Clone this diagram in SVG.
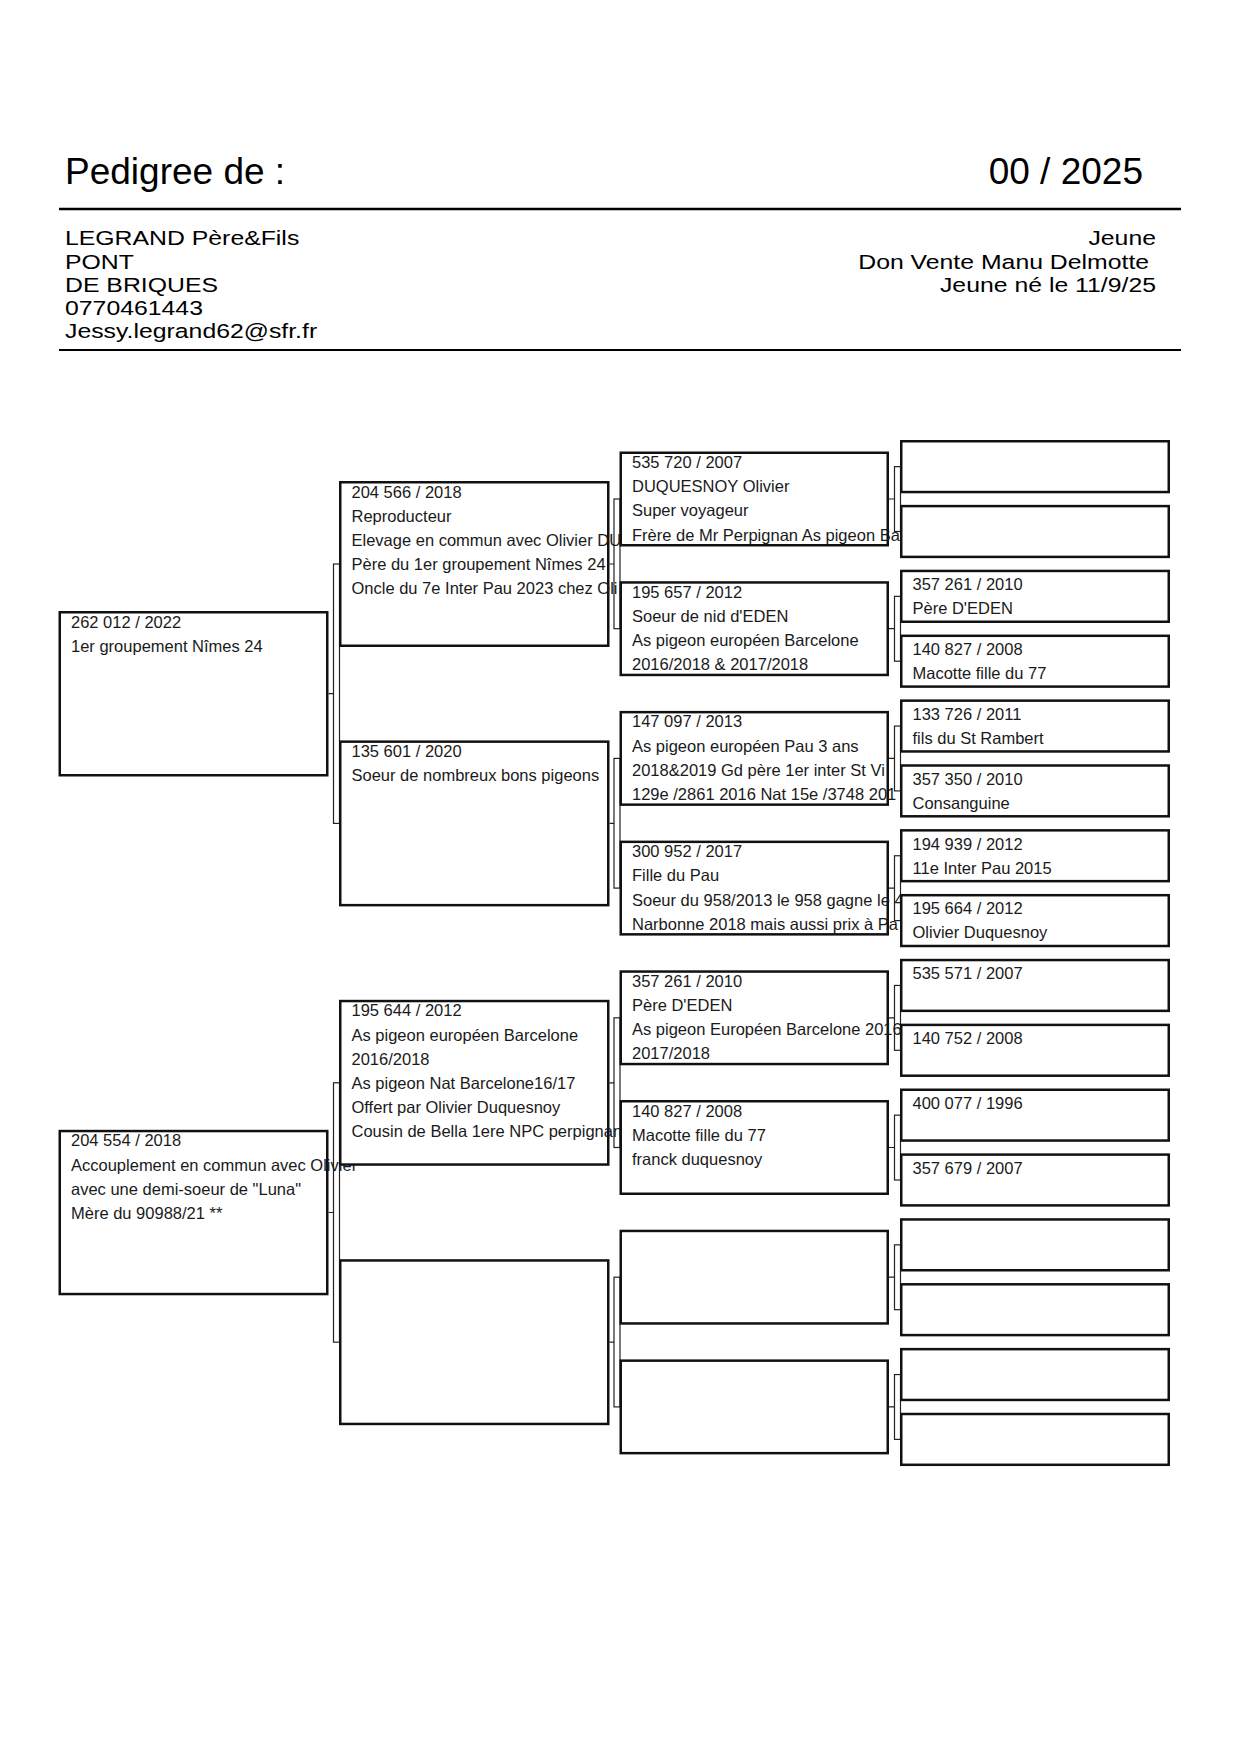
<svg xmlns="http://www.w3.org/2000/svg" width="1240" height="1754" viewBox="0 0 1240 1754">
<style>
.box{fill:#fff;stroke:#111;stroke-width:2.5}
.t{font-family:"Liberation Sans",Arial,sans-serif;font-size:16.5px;fill:#1a1a1a}
.h{font-family:"Liberation Sans",Arial,sans-serif;fill:#000}
.s{font-family:"Liberation Sans",Arial,sans-serif;fill:#000;font-size:20.5px}
.conn{fill:none;stroke:#222;stroke-width:1.2}
.rule{stroke:#000}
</style>
<rect width="1240" height="1754" fill="#fff"/>
<g id="header">
<text class="h" x="65" y="184" font-size="37">Pedigree de :</text>
<text class="h" x="1143" y="184" font-size="37" text-anchor="end">00 / 2025</text>
<line class="rule" x1="59" y1="209" x2="1181" y2="209" stroke-width="2.5"/>
<g transform="translate(65,0) scale(1.21,1)">
<text class="s" x="0" y="245.5">LEGRAND Père&amp;Fils</text>
<text class="s" x="0" y="268.8">PONT</text>
<text class="s" x="0" y="292">DE BRIQUES</text>
<text class="s" x="0" y="315.3">0770461443</text>
<text class="s" x="0" y="338.5">Jessy.legrand62@sfr.fr</text>
</g>
<g transform="translate(1156,0) scale(1.21,1)">
<text class="s" x="0" y="245.5" text-anchor="end">Jeune</text>
<text class="s" x="-5.7" y="268.8" text-anchor="end">Don Vente Manu Delmotte</text>
<text class="s" x="0" y="292" text-anchor="end">Jeune né le 11/9/25</text>
</g>
<line class="rule" x1="59" y1="350" x2="1181" y2="350" stroke-width="2" stroke="#222"/>
</g>
<g id="connectors">
<path class="conn" d="M328.5 693.7H333.5M328.5 1212.5H333.5"/>
<rect class="conn" x="333.5" y="564" width="6" height="259.4"/>
<rect class="conn" x="333.5" y="1082.8" width="6" height="259.4"/>
<path class="conn" d="M609.5 564H614M609.5 823.4H614M609.5 1082.8H614M609.5 1342.2H614"/>
<rect class="conn" x="614" y="499" width="6" height="129.7"/>
<rect class="conn" x="614" y="758.4" width="6" height="129.7"/>
<rect class="conn" x="614" y="1017.8" width="6" height="129.7"/>
<rect class="conn" x="614" y="1277.2" width="6" height="129.7"/>
<path class="conn" d="M889 499H894.5M889 628.7H894.5M889 758.4H894.5M889 888.1H894.5M889 1017.8H894.5M889 1147.5H894.5M889 1277.2H894.5M889 1406.9H894.5"/>
<rect class="conn" x="894.5" y="466.65" width="6" height="64.85"/>
<rect class="conn" x="894.5" y="596.35" width="6" height="64.85"/>
<rect class="conn" x="894.5" y="726.05" width="6" height="64.85"/>
<rect class="conn" x="894.5" y="855.75" width="6" height="64.85"/>
<rect class="conn" x="894.5" y="985.45" width="6" height="64.85"/>
<rect class="conn" x="894.5" y="1115.15" width="6" height="64.85"/>
<rect class="conn" x="894.5" y="1244.85" width="6" height="64.85"/>
<rect class="conn" x="894.5" y="1374.55" width="6" height="64.85"/>
</g>
<g id="n1a"><rect class="box" x="59.75" y="612.25" width="267.5" height="163"/>
<text class="t" x="71" y="627.5">262 012 / 2022</text><text class="t" x="71" y="651.7">1er groupement Nîmes 24</text></g>
<g id="n1b"><rect class="box" x="59.75" y="1131.05" width="267.5" height="163"/>
<text class="t" x="71" y="1146.3">204 554 / 2018</text><text class="t" x="71" y="1170.5">Accouplement en commun avec Olivier</text><text class="t" x="71" y="1194.7">avec une demi-soeur de "Luna"</text><text class="t" x="71" y="1218.9">Mère du 90988/21 **</text></g>
<g id="n2a"><rect class="box" x="340.25" y="482.25" width="268" height="163.5"/>
<text class="t" x="351.5" y="497.5">204 566 / 2018</text><text class="t" x="351.5" y="521.7">Reproducteur</text><text class="t" x="351.5" y="545.9">Elevage en commun avec Olivier DU</text><text class="t" x="351.5" y="570.1">Père du 1er groupement Nîmes 24</text><text class="t" x="351.5" y="594.3">Oncle du 7e Inter Pau 2023 chez Oli</text></g>
<g id="n2b"><rect class="box" x="340.25" y="741.65" width="268" height="163.5"/>
<text class="t" x="351.5" y="756.9">135 601 / 2020</text><text class="t" x="351.5" y="781.1">Soeur de nombreux bons pigeons</text></g>
<g id="n2c"><rect class="box" x="340.25" y="1001.05" width="268" height="163.5"/>
<text class="t" x="351.5" y="1016.3">195 644 / 2012</text><text class="t" x="351.5" y="1040.5">As pigeon européen Barcelone</text><text class="t" x="351.5" y="1064.7">2016/2018</text><text class="t" x="351.5" y="1088.9">As pigeon Nat Barcelone16/17</text><text class="t" x="351.5" y="1113.1">Offert par Olivier Duquesnoy</text><text class="t" x="351.5" y="1137.3">Cousin de Bella 1ere NPC perpignan</text></g>
<g id="n2d"><rect class="box" x="340.25" y="1260.45" width="268" height="163.5"/></g>
<g id="n3a"><rect class="box" x="620.75" y="452.75" width="267" height="92.5"/>
<text class="t" x="632" y="468">535 720 / 2007</text><text class="t" x="632" y="492.2">DUQUESNOY Olivier</text><text class="t" x="632" y="516.4">Super voyageur</text><text class="t" x="632" y="540.6">Frère de Mr Perpignan As pigeon Ba</text></g>
<g id="n3b"><rect class="box" x="620.75" y="582.45" width="267" height="92.5"/>
<text class="t" x="632" y="597.7">195 657 / 2012</text><text class="t" x="632" y="621.9">Soeur de nid d'EDEN</text><text class="t" x="632" y="646.1">As pigeon européen Barcelone</text><text class="t" x="632" y="670.3">2016/2018 &amp; 2017/2018</text></g>
<g id="n3c"><rect class="box" x="620.75" y="712.15" width="267" height="92.5"/>
<text class="t" x="632" y="727.4">147 097 / 2013</text><text class="t" x="632" y="751.6">As pigeon européen Pau 3 ans</text><text class="t" x="632" y="775.8">2018&amp;2019 Gd père 1er inter St Vi</text><text class="t" x="632" y="800">129e /2861 2016 Nat 15e /3748 201</text></g>
<g id="n3d"><rect class="box" x="620.75" y="841.85" width="267" height="92.5"/>
<text class="t" x="632" y="857.1">300 952 / 2017</text><text class="t" x="632" y="881.3">Fille du Pau</text><text class="t" x="632" y="905.5">Soeur du 958/2013 le 958 gagne le 4</text><text class="t" x="632" y="929.7">Narbonne 2018 mais aussi prix à Pa</text></g>
<g id="n3e"><rect class="box" x="620.75" y="971.55" width="267" height="92.5"/>
<text class="t" x="632" y="986.8">357 261 / 2010</text><text class="t" x="632" y="1011">Père D'EDEN</text><text class="t" x="632" y="1035.2">As pigeon Européen Barcelone 2016</text><text class="t" x="632" y="1059.4">2017/2018</text></g>
<g id="n3f"><rect class="box" x="620.75" y="1101.25" width="267" height="92.5"/>
<text class="t" x="632" y="1116.5">140 827 / 2008</text><text class="t" x="632" y="1140.7">Macotte fille du 77</text><text class="t" x="632" y="1164.9">franck duquesnoy</text></g>
<g id="n3g"><rect class="box" x="620.75" y="1230.95" width="267" height="92.5"/></g>
<g id="n3h"><rect class="box" x="620.75" y="1360.65" width="267" height="92.5"/></g>
<g id="n4-0"><rect class="box" x="901.25" y="441.25" width="267.5" height="50.8"/></g>
<g id="n4-1"><rect class="box" x="901.25" y="506.1" width="267.5" height="50.8"/></g>
<g id="n4-2"><rect class="box" x="901.25" y="570.95" width="267.5" height="50.8"/>
<text class="t" x="912.5" y="590.2">357 261 / 2010</text><text class="t" x="912.5" y="614.2">Père D'EDEN</text></g>
<g id="n4-3"><rect class="box" x="901.25" y="635.8" width="267.5" height="50.8"/>
<text class="t" x="912.5" y="655">140 827 / 2008</text><text class="t" x="912.5" y="679">Macotte fille du 77</text></g>
<g id="n4-4"><rect class="box" x="901.25" y="700.65" width="267.5" height="50.8"/>
<text class="t" x="912.5" y="719.9">133 726 / 2011</text><text class="t" x="912.5" y="743.9">fils du St Rambert</text></g>
<g id="n4-5"><rect class="box" x="901.25" y="765.5" width="267.5" height="50.8"/>
<text class="t" x="912.5" y="784.7">357 350 / 2010</text><text class="t" x="912.5" y="808.7">Consanguine</text></g>
<g id="n4-6"><rect class="box" x="901.25" y="830.35" width="267.5" height="50.8"/>
<text class="t" x="912.5" y="849.6">194 939 / 2012</text><text class="t" x="912.5" y="873.6">11e Inter Pau 2015</text></g>
<g id="n4-7"><rect class="box" x="901.25" y="895.2" width="267.5" height="50.8"/>
<text class="t" x="912.5" y="914.4">195 664 / 2012</text><text class="t" x="912.5" y="938.4">Olivier Duquesnoy</text></g>
<g id="n4-8"><rect class="box" x="901.25" y="960.05" width="267.5" height="50.8"/>
<text class="t" x="912.5" y="979.3">535 571 / 2007</text></g>
<g id="n4-9"><rect class="box" x="901.25" y="1024.9" width="267.5" height="50.8"/>
<text class="t" x="912.5" y="1044.1">140 752 / 2008</text></g>
<g id="n4-10"><rect class="box" x="901.25" y="1089.75" width="267.5" height="50.8"/>
<text class="t" x="912.5" y="1109">400 077 / 1996</text></g>
<g id="n4-11"><rect class="box" x="901.25" y="1154.6" width="267.5" height="50.8"/>
<text class="t" x="912.5" y="1173.8">357 679 / 2007</text></g>
<g id="n4-12"><rect class="box" x="901.25" y="1219.45" width="267.5" height="50.8"/></g>
<g id="n4-13"><rect class="box" x="901.25" y="1284.3" width="267.5" height="50.8"/></g>
<g id="n4-14"><rect class="box" x="901.25" y="1349.15" width="267.5" height="50.8"/></g>
<g id="n4-15"><rect class="box" x="901.25" y="1414" width="267.5" height="50.8"/></g>
</svg>
